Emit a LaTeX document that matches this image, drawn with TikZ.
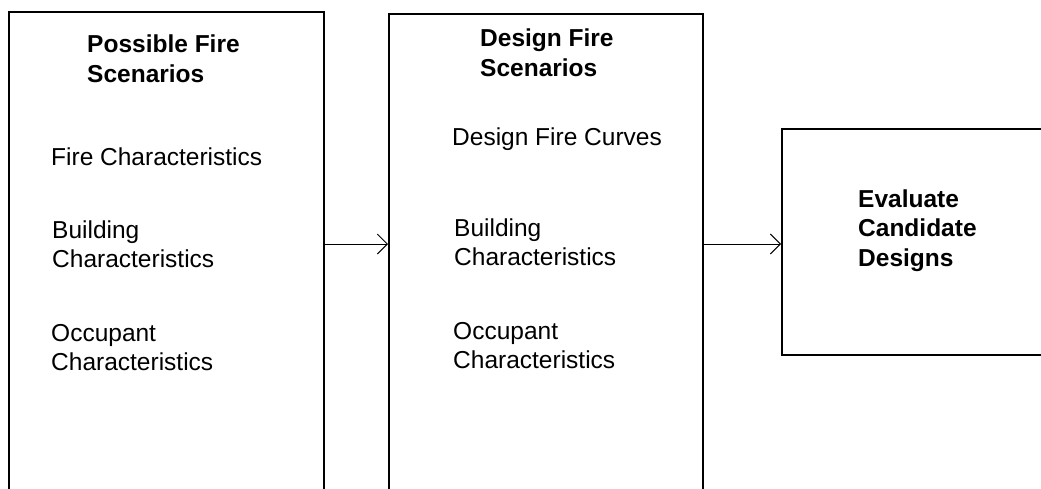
\documentclass[tikz,border=0pt]{standalone}
\usepackage{fontspec}
\setmainfont{Liberation Sans}
\usetikzlibrary{arrows.meta,positioning}

\begin{document}
\begin{tikzpicture}[x=1pt,y=-1pt,>={Straight Barb[length=10pt,width=20pt]},
  box/.style={draw,line width=1.6pt,inner sep=0pt,anchor=north west},
  txt/.style={anchor=base west,inner sep=0pt,align=left,font=\fontsize{24.5}{29}\selectfont},
  head/.style={txt,font=\fontsize{24.5}{29.5}\selectfont\bfseries}]
\useasboundingbox (0,0) rectangle (1041,488);
\clip (0,0) rectangle (1041,488);
% the three stages, the first two run off the bottom
\node[box,minimum width=315pt,minimum height=560pt] (possible) at (8,11) {};
\node[box,minimum width=314pt,minimum height=560pt] (design) at (388,13) {};
\node[box,minimum width=300pt,minimum height=226pt] (evaluate) at (781,128) {};
% possible fire scenarios (base is the last line)
\node[head] (possiblehead) at (87,82) {Possible Fire\\Scenarios};
\node[txt] (firechar) at (51,165) {Fire Characteristics};
\node[txt] (buildchar) at (52,267) {Building\\Characteristics};
\node[txt] (occchar) at (51,370) {Occupant\\Characteristics};
% design fire scenarios
\node[head] (designhead) at (480,76) {Design Fire\\Scenarios};
\node[txt] (curves) at (452,145) {Design Fire Curves};
\node[txt] (buildchartwo) at (454,265) {Building\\Characteristics};
\node[txt] (occchartwo) at (453,368) {Occupant\\Characteristics};
% evaluation
\node[head] (evalhead) at (858,266) {Evaluate\\Candidate\\Designs};
% flow line height
\coordinate (flow) at (0,244);
\path[->,line width=1pt]
  (possible.east |- flow) edge (design.west |- flow)
  (design.east |- flow) edge (evaluate.west |- flow);
\end{tikzpicture}
\end{document}
